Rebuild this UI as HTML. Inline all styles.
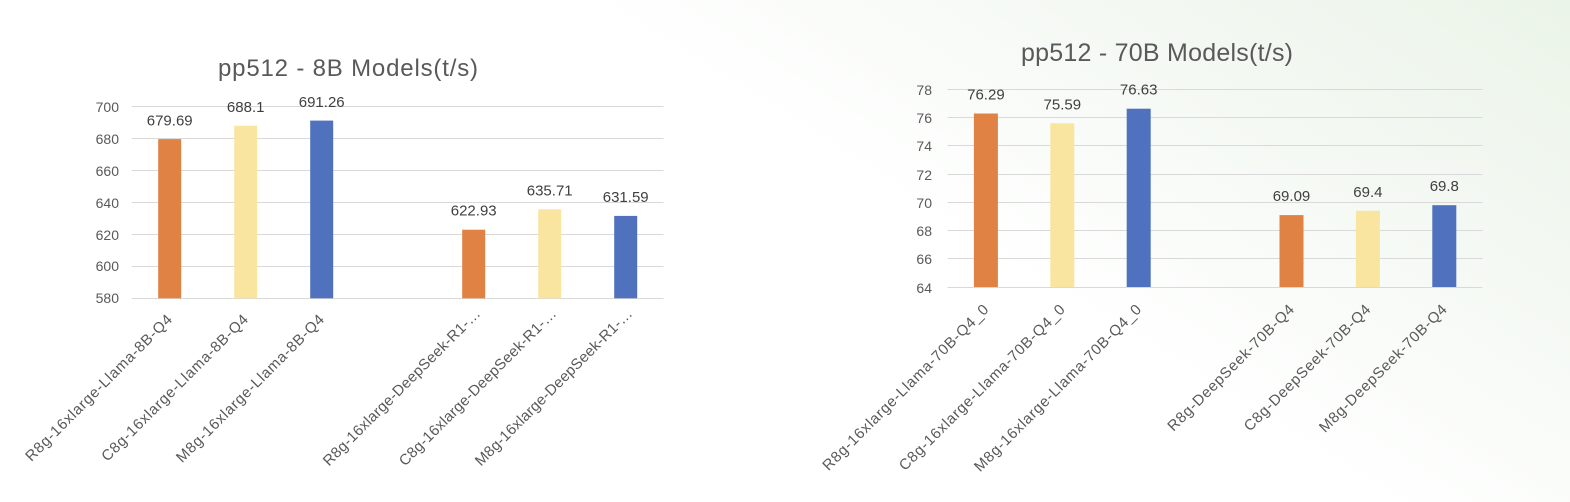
<!DOCTYPE html>
<html>
<head>
<meta charset="utf-8">
<style>
  html, body { margin:0; padding:0; }
  body {
    width:1570px; height:502px; overflow:hidden;
    background: linear-gradient(32deg, #ffffff 0%, #ffffff 58%, #f5f9f4 78%, #ebf4e9 100%);
  }
  svg { display:block; }
  text { font-family: "Liberation Sans", "DejaVu Sans", sans-serif; fill:#595959; }
  .ttl { font-size:24px; }
  .val { font-size:15px; fill:#404040; }
  .yl { font-size:14px; }
  .xl { font-size:15px; letter-spacing:0.7px; }
  .grid { stroke:#d9d9d9; stroke-width:1; }
</style>
</head>
<body>
<svg width="1570" height="502" viewBox="0 0 1570 502" xmlns="http://www.w3.org/2000/svg">
  <!-- ============ Chart 1 ============ -->
  <text class="ttl" x="348" y="76" text-anchor="middle" textLength="260" lengthAdjust="spacing">pp512 - 8B Models(t/s)</text>
  <g>
    <line class="grid" x1="131.5" x2="663.5" y1="106.5" y2="106.5"/>
    <line class="grid" x1="131.5" x2="663.5" y1="138.5" y2="138.5"/>
    <line class="grid" x1="131.5" x2="663.5" y1="170.5" y2="170.5"/>
    <line class="grid" x1="131.5" x2="663.5" y1="202.5" y2="202.5"/>
    <line class="grid" x1="131.5" x2="663.5" y1="234.5" y2="234.5"/>
    <line class="grid" x1="131.5" x2="663.5" y1="266.5" y2="266.5"/>
    <line class="grid" x1="131.5" x2="663.5" y1="298.5" y2="298.5"/>
  </g>
  <g>
    <text class="yl" x="119" y="112" text-anchor="end">700</text>
    <text class="yl" x="119" y="144" text-anchor="end">680</text>
    <text class="yl" x="119" y="176" text-anchor="end">660</text>
    <text class="yl" x="119" y="208" text-anchor="end">640</text>
    <text class="yl" x="119" y="240" text-anchor="end">620</text>
    <text class="yl" x="119" y="271" text-anchor="end">600</text>
    <text class="yl" x="119" y="303" text-anchor="end">580</text>
  </g>
  <!-- bars: y(v)=298.3-(v-580)*1.597 -->
  <rect x="158.2" y="139.1" width="23" height="159.2" fill="#DF8244"/>
  <rect x="234.2" y="125.7" width="23" height="172.6" fill="#FAE5A0"/>
  <rect x="310.2" y="120.6" width="23" height="177.7" fill="#4F71BE"/>
  <rect x="462.2" y="229.7" width="23" height="68.6" fill="#DF8244"/>
  <rect x="538.2" y="209.3" width="23" height="89.0" fill="#FAE5A0"/>
  <rect x="614.2" y="215.9" width="23" height="82.4" fill="#4F71BE"/>
  <text class="val" x="169.7" y="125.5" text-anchor="middle">679.69</text>
  <text class="val" x="245.7" y="112" text-anchor="middle">688.1</text>
  <text class="val" x="321.7" y="107" text-anchor="middle">691.26</text>
  <text class="val" x="473.7" y="215.7" text-anchor="middle">622.93</text>
  <text class="val" x="549.7" y="195.3" text-anchor="middle">635.71</text>
  <text class="val" x="625.7" y="201.9" text-anchor="middle">631.59</text>
  <!-- x labels -->
  <text class="xl" text-anchor="end" transform="translate(173.5,320) rotate(-45)">R8g-16xlarge-Llama-8B-Q4</text>
  <text class="xl" text-anchor="end" transform="translate(249.5,320) rotate(-45)">C8g-16xlarge-Llama-8B-Q4</text>
  <text class="xl" text-anchor="end" transform="translate(325.5,320) rotate(-45)">M8g-16xlarge-Llama-8B-Q4</text>
  <text class="xl" text-anchor="end" textLength="216" lengthAdjust="spacing" transform="translate(481.7,314) rotate(-45)">R8g-16xlarge-DeepSeek-R1-…</text>
  <text class="xl" text-anchor="end" textLength="216" lengthAdjust="spacing" transform="translate(557.7,314) rotate(-45)">C8g-16xlarge-DeepSeek-R1-…</text>
  <text class="xl" text-anchor="end" textLength="216" lengthAdjust="spacing" transform="translate(633.7,314) rotate(-45)">M8g-16xlarge-DeepSeek-R1-…</text>

  <!-- ============ Chart 2 ============ -->
  <text class="ttl" style="font-size:25px" x="1157" y="61" text-anchor="middle" textLength="272" lengthAdjust="spacing">pp512 - 70B Models(t/s)</text>
  <g>
    <line class="grid" x1="947.5" x2="1482.5" y1="89.5" y2="89.5"/>
    <line class="grid" x1="947.5" x2="1482.5" y1="117.5" y2="117.5"/>
    <line class="grid" x1="947.5" x2="1482.5" y1="145.5" y2="145.5"/>
    <line class="grid" x1="947.5" x2="1482.5" y1="174.5" y2="174.5"/>
    <line class="grid" x1="947.5" x2="1482.5" y1="202.5" y2="202.5"/>
    <line class="grid" x1="947.5" x2="1482.5" y1="230.5" y2="230.5"/>
    <line class="grid" x1="947.5" x2="1482.5" y1="258.5" y2="258.5"/>
    <line class="grid" x1="947.5" x2="1482.5" y1="287.5" y2="287.5"/>
  </g>
  <g>
    <text class="yl" x="932" y="95" text-anchor="end">78</text>
    <text class="yl" x="932" y="123" text-anchor="end">76</text>
    <text class="yl" x="932" y="151" text-anchor="end">74</text>
    <text class="yl" x="932" y="180" text-anchor="end">72</text>
    <text class="yl" x="932" y="208" text-anchor="end">70</text>
    <text class="yl" x="932" y="236" text-anchor="end">68</text>
    <text class="yl" x="932" y="264" text-anchor="end">66</text>
    <text class="yl" x="932" y="293" text-anchor="end">64</text>
  </g>
  <!-- bars: y(v)=287-(v-64)*14.12 -->
  <rect x="973.9" y="113.5" width="24" height="173.5" fill="#DF8244"/>
  <rect x="1050.3" y="123.3" width="24" height="163.7" fill="#FAE5A0"/>
  <rect x="1126.7" y="108.7" width="24" height="178.3" fill="#4F71BE"/>
  <rect x="1279.5" y="215.1" width="24" height="71.9" fill="#DF8244"/>
  <rect x="1355.9" y="210.8" width="24" height="76.2" fill="#FAE5A0"/>
  <rect x="1432.3" y="205.2" width="24" height="81.8" fill="#4F71BE"/>
  <text class="val" x="985.9" y="99.5" text-anchor="middle">76.29</text>
  <text class="val" x="1062.3" y="109.3" text-anchor="middle">75.59</text>
  <text class="val" x="1138.7" y="94.7" text-anchor="middle">76.63</text>
  <text class="val" x="1291.5" y="201.1" text-anchor="middle">69.09</text>
  <text class="val" x="1367.9" y="196.8" text-anchor="middle">69.4</text>
  <text class="val" x="1444.3" y="191.2" text-anchor="middle">69.8</text>
  <text class="xl" text-anchor="end" transform="translate(989.9,310) rotate(-45)">R8g-16xlarge-Llama-70B-Q4_0</text>
  <text class="xl" text-anchor="end" transform="translate(1066.3,310) rotate(-45)">C8g-16xlarge-Llama-70B-Q4_0</text>
  <text class="xl" text-anchor="end" transform="translate(1142.7,310) rotate(-45)">M8g-16xlarge-Llama-70B-Q4_0</text>
  <text class="xl" text-anchor="end" transform="translate(1295.5,310) rotate(-45)">R8g-DeepSeek-70B-Q4</text>
  <text class="xl" text-anchor="end" transform="translate(1371.9,310) rotate(-45)">C8g-DeepSeek-70B-Q4</text>
  <text class="xl" text-anchor="end" transform="translate(1448.3,310) rotate(-45)">M8g-DeepSeek-70B-Q4</text>
</svg>
</body>
</html>
